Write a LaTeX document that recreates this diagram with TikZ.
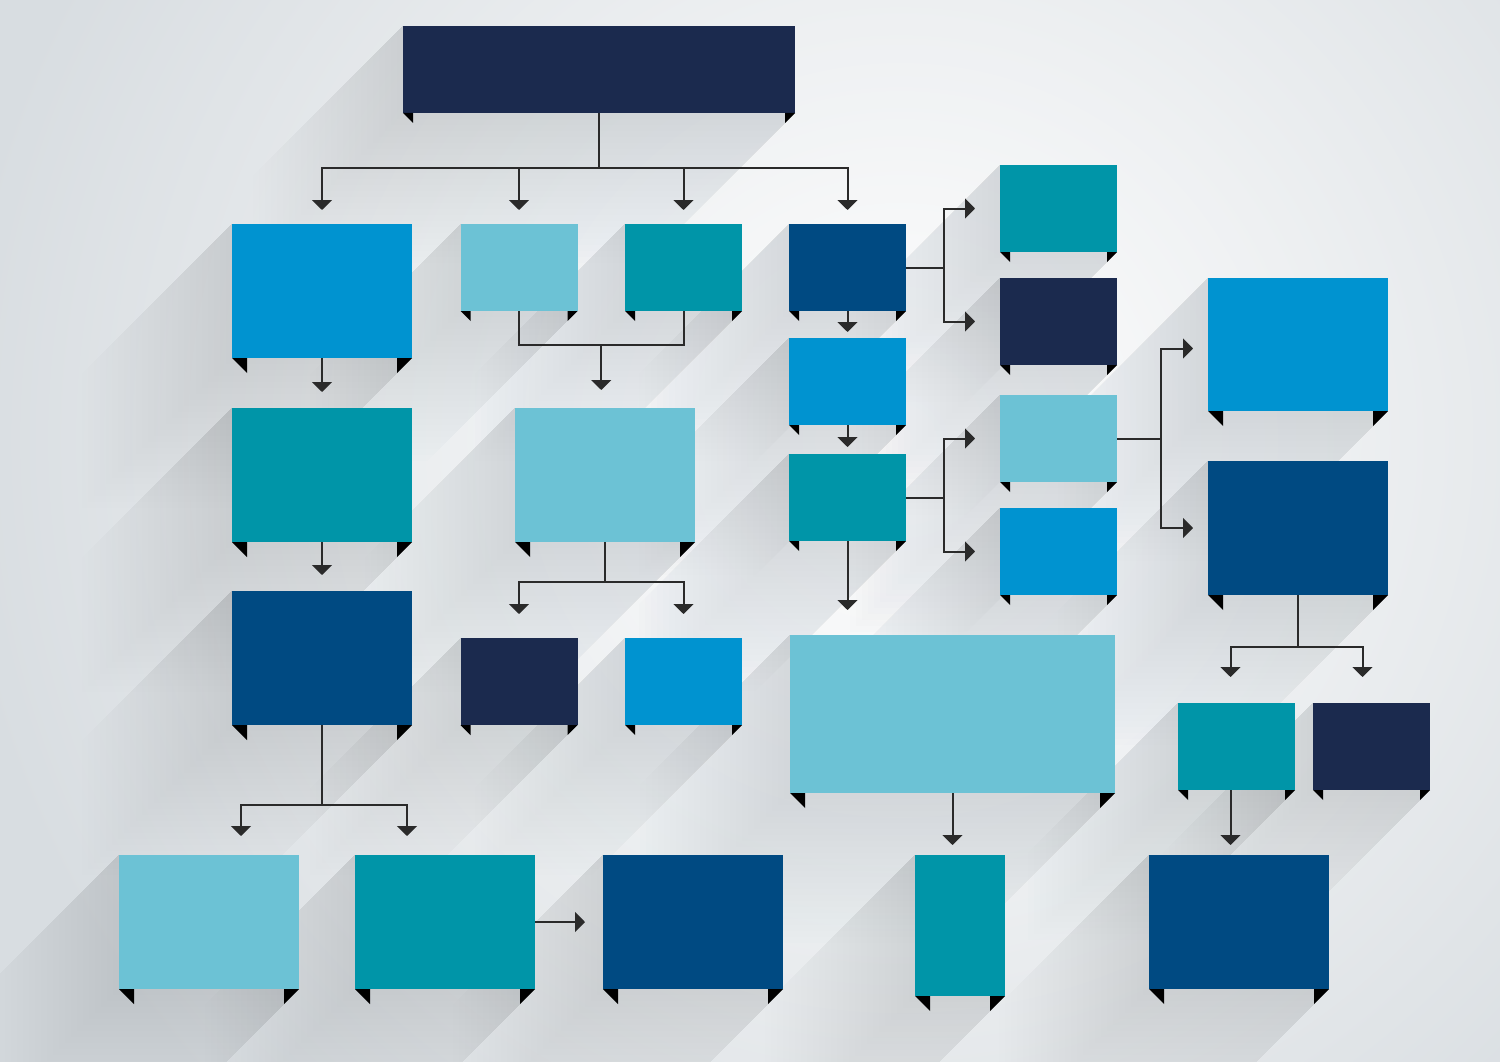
\documentclass[tikz,border=0pt]{standalone}
\usetikzlibrary{arrows.meta,calc}

\definecolor{navy}{RGB}{27,42,78}
\definecolor{deepblue}{RGB}{0,74,130}
\definecolor{skyblue}{RGB}{0,147,208}
\definecolor{teal}{RGB}{0,149,168}
\definecolor{cyanlight}{RGB}{108,194,213}
\definecolor{wirecol}{RGB}{42,42,42}
\definecolor{bggray}{RGB}{216,221,225}
\definecolor{shadowgray}{RGB}{105,111,117}

\pgfdeclarelayer{back}
\pgfdeclarelayer{shadows}
\pgfsetlayers{back,shadows,main}

\begin{document}
\begin{tikzpicture}[x=1pt, y=-1pt,
  box/.style={rectangle, inner sep=0pt, outer sep=0pt, minimum width=180pt, minimum height=134pt},
  sbox/.style={box, minimum width=117pt, minimum height=87pt},
  wire/.style={draw=wirecol, line width=2pt},
  flow/.style={wire, -{Triangle[length=10pt, width=20pt]}},
  foot/.style={fill=black},
  castshadow/.style={fill=shadowgray, opacity=.009}]
\useasboundingbox (0,0) rectangle (1500,1062);

% background
\begin{pgfonlayer}{back}
\fill[bggray] (0,0) rectangle (1500,1062);
\shade[inner color=white, outer color=bggray] (900,440) circle (950);
\end{pgfonlayer}

% boxes, top to bottom
\node[box, fill=navy, minimum width=392pt, minimum height=87pt] (top) at (599,69.5) {};
\node[box, fill=skyblue] (b2) at (322,291) {};
\node[sbox, fill=cyanlight] (b3) at (519,267.5) {};
\node[sbox, fill=teal] (b4) at (683.5,267.5) {};
\node[sbox, fill=deepblue] (b5) at (847.5,267.5) {};
\node[sbox, fill=teal] (b6) at (1058.5,208.5) {};
\node[sbox, fill=navy] (b7) at (1058.5,321.5) {};
\node[sbox, fill=skyblue] (b8) at (847.5,381.5) {};
\node[sbox, fill=teal] (b9) at (847.5,497.5) {};
\node[sbox, fill=cyanlight] (b10) at (1058.5,438.5) {};
\node[sbox, fill=skyblue] (b11) at (1058.5,551.5) {};
\node[box, fill=skyblue, minimum height=133pt] (b12) at (1298,344.5) {};
\node[box, fill=deepblue] (b13) at (1298,528) {};
\node[box, fill=teal] (b14) at (322,475) {};
\node[box, fill=cyanlight] (b15) at (605,475) {};
\node[box, fill=deepblue] (b16) at (322,658) {};
\node[sbox, fill=navy] (b17) at (519,681.5) {};
\node[sbox, fill=skyblue] (b18) at (683.5,681.5) {};
\node[box, fill=cyanlight, minimum width=325pt, minimum height=158pt] (b19) at (952.5,714) {};
\node[sbox, fill=teal] (b20) at (1236.5,746.5) {};
\node[sbox, fill=navy] (b21) at (1371.5,746.5) {};
\node[box, fill=cyanlight] (b22) at (209,922) {};
\node[box, fill=teal] (b23) at (445,922) {};
\node[box, fill=deepblue] (b24) at (693,922) {};
\node[box, fill=teal, minimum width=90pt, minimum height=141pt] (b25) at (960,925.5) {};
\node[box, fill=deepblue] (b26) at (1239,922) {};

% long shadows, stacked so they thin out away from the box
\begin{pgfonlayer}{shadows}
\clip (0,0) rectangle (1500,1062);
\foreach \b in {top,b2,b3,b4,b5,b6,b7,b8,b9,b10,b11,b12,b13,b14,b15,b16,b17,b18,b19,b20,b21,b22,b23,b24,b25,b26}
  \foreach \s in {6,12,...,150}
    \fill[castshadow] (\b.north west) -- ([shift={(-\s,\s)}]\b.north west) -- ([shift={(-\s,\s)}]\b.south west)
      -- ([shift={(-\s,\s)}]\b.south east) -- (\b.south east) -- (\b.north east) -- cycle;
\end{pgfonlayer}

% folded feet
\foreach \b in {b2,b12,b13,b14,b15,b16,b19,b22,b23,b24,b25,b26} {
  \fill[foot] (\b.south west) -- ++(15,0) -- ++(0,15) -- cycle;
  \fill[foot] (\b.south east) -- ++(-15,0) -- ++(0,15) -- cycle;
}
\foreach \b in {top,b3,b4,b5,b6,b7,b8,b9,b10,b11,b17,b18,b20,b21} {
  \fill[foot] (\b.south west) -- ++(10,0) -- ++(0,10) -- cycle;
  \fill[foot] (\b.south east) -- ++(-10,0) -- ++(0,10) -- cycle;
}

% connectors
\draw[wire] (top.south) -- ++(0,55) coordinate (j0);
\foreach \b in {b2,b3,b4,b5}
  \draw[flow, shorten >=14pt] (j0) -| (\b.north);
\draw[flow, shorten >=16pt] (b2) -- (b14);
\draw[flow, shorten >=16pt] (b14) -- (b16);

\draw[wire] (b3.south) |- ($(b3.south)!.5!(b4.south)+(0,34)$) coordinate (j1) -| (b4.south);
\draw[flow, shorten >=18pt] (j1) -- (j1 |- b15.north);

\draw[flow, shorten >=6pt] (b5) -- (b8);
\draw[flow, shorten >=7pt] (b8) -- (b9);
\draw[wire] (b5.east) -- ++(38,0) coordinate (j2);
\draw[flow, shorten >=25pt] (j2) |- (b6.west);
\draw[flow, shorten >=25pt] (j2) |- (b7.west);
\draw[wire] (b9.east) -- ++(38,0) coordinate (j3);
\draw[flow, shorten >=25pt] (j3) |- (b10.west);
\draw[flow, shorten >=25pt] (j3) |- (b11.west);
\draw[flow, shorten >=25pt] (b9.south) -- (b9.south |- b19.north);

\draw[wire] (b10.east) -- ++(44,0) coordinate (j4);
\draw[flow, shorten >=15pt] (j4) |- ([yshift=-4pt]b12.west);
\draw[flow, shorten >=15pt] (j4) |- (b13.west);

\draw[wire] (b13.south) -- ++(0,52) coordinate (j5);
\draw[flow, shorten >=26pt] (j5) -| ([xshift=-6pt]b20.north);
\draw[flow, shorten >=26pt] (j5) -| ([xshift=-9pt]b21.north);
\draw[flow, shorten >=10pt] ([xshift=-6pt]b20.south) coordinate (k20) -- (k20 |- b26.north);

\draw[wire] (b15.south) -- ++(0,40) coordinate (j6);
\draw[flow, shorten >=24pt] (j6) -| (b17.north);
\draw[flow, shorten >=24pt] (j6) -| (b18.north);

\draw[wire] (b16.south) -- ++(0,80) coordinate (j7);
\draw[flow, shorten >=19pt] (j7) -| ([xshift=32pt]b22.north);
\draw[flow, shorten >=19pt] (j7) -| ([xshift=-38pt]b23.north);
\draw[flow, shorten >=18pt] (b23) -- (b24);

\draw[flow, shorten >=10pt] (b19.south) -- (b19.south |- b25.north);

\end{tikzpicture}
\end{document}
